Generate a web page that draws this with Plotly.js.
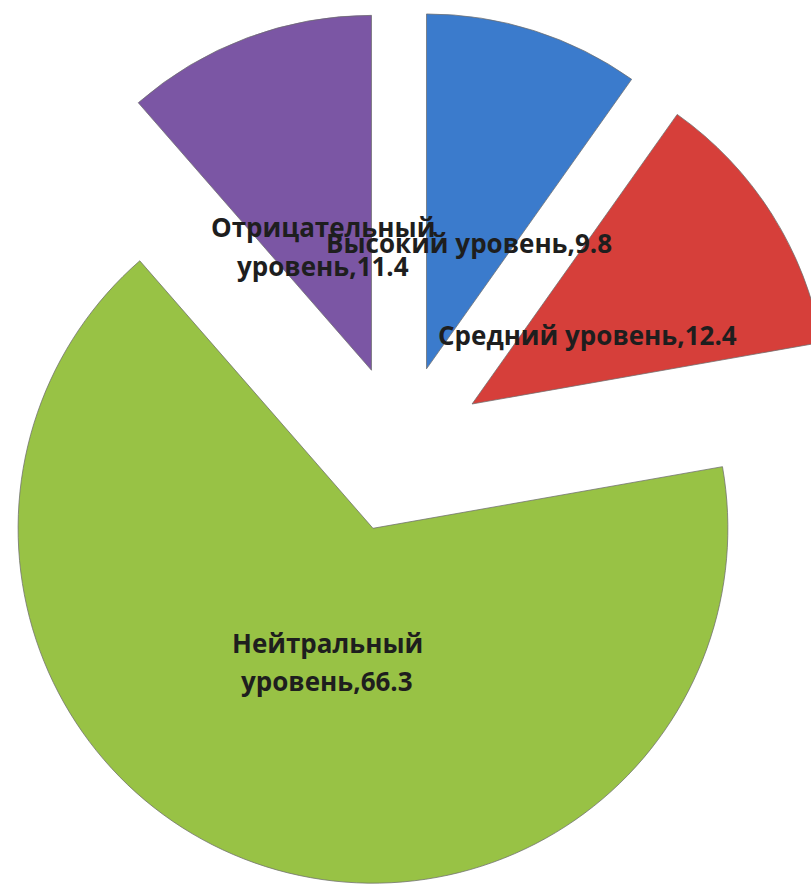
<!DOCTYPE html>
<html><head><meta charset="utf-8">
<script src="https://cdn.plot.ly/plotly-3.0.1.min.js"></script>
<style>
html,body{margin:0;padding:0;background:#fff;overflow:hidden;width:811px;height:886px;position:relative}
#chart{position:absolute;left:-38px;top:10px;width:878px;height:878px}
</style>
</head><body><div id="chart"></div>
<script>
// ---- data ----
const categories = ["Высокий уровень", "Средний уровень", "Нейтральный уровень", "Отрицательный уровень"];
const values = [9.8, 12.4, 66.3, 11.4];

// ---- styles / layout ----
const colors = ["#3B7BCC", "#D63F3A", "#98C245", "#7B56A4"];
const pull = [0.237, 0.237, 0.237, 0.237];
const W = 878, H = 878, offX = 38, offY = -10;
const wrap = [false, false, true, true];
const labelPos = [
  [[469, 243]],
  [[587, 335]],
  [[327, 643], [327, 681]],
  [[323, 227], [323, 266]]
];
const edge = "rgba(110,110,110,0.75)";

const traces = [{
  type: 'pie', labels: categories, values: values, sort: false,
  direction: 'clockwise', rotation: 0, pull: pull,
  textinfo: 'none', hoverinfo: 'none', showlegend: false,
  marker: {colors: colors, line: {color: edge, width: 1}},
  domain: {x: [0, 1], y: [0, 1]}
}];

const annotations = [];
categories.forEach((cat, i) => {
  let lines;
  if (wrap[i]) {
    const k = cat.indexOf(' ');
    lines = [cat.slice(0, k), cat.slice(k + 1) + "," + values[i]];
  } else {
    lines = [cat + "," + values[i]];
  }
  lines.forEach((t, j) => {
    const p = labelPos[i][j];
    annotations.push({
      text: t, xref: 'paper', yref: 'paper',
      x: (p[0] + offX) / W, y: 1 - (p[1] + offY) / H,
      xanchor: 'center', yanchor: 'middle', showarrow: false,
      font: {family: 'Open Sans, sans-serif', size: 26, color: '#1e1e1e', weight: 'bold'}
    });
  });
});

const layout = {
  width: W, height: H,
  margin: {l: 0, r: 0, t: 0, b: 0},
  paper_bgcolor: '#fff', plot_bgcolor: '#fff',
  annotations: annotations
};
Plotly.newPlot('chart', traces, layout, {staticPlot: true, displayModeBar: false});
</script>
</body></html>
